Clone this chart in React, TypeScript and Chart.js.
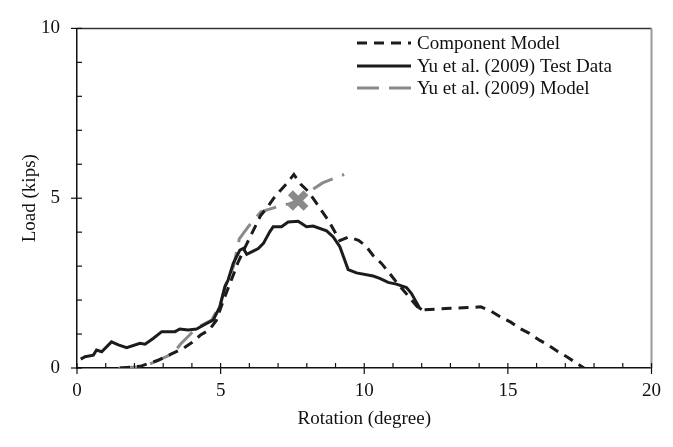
import React, { useEffect, useRef } from "react";
import { Chart, registerables } from "chart.js";

Chart.register(...registerables);

// Component Model (dashed black)
const componentX = [1.5, 2.2, 2.8, 3.7, 4.0, 4.3, 4.6, 4.85, 5.1, 5.4, 5.6, 5.85, 6.05, 6.4, 6.6, 6.85, 7.05, 7.3, 7.55, 7.8, 8.05, 8.3, 8.5, 8.75, 8.95, 9.15, 9.45, 9.8, 10.05, 10.3, 10.6, 10.85, 11.1, 11.4, 11.6, 11.9, 12.0, 12.5, 13.0, 13.6, 14.05, 14.4, 14.75, 15.1, 15.4, 15.75, 16.1, 16.4, 16.75, 17.05, 17.4, 17.65];
const componentY = [0.0, 0.05, 0.22, 0.58, 0.75, 0.97, 1.12, 1.4, 2.0, 2.65, 3.1, 3.55, 3.9, 4.5, 4.7, 5.0, 5.2, 5.43, 5.7, 5.4, 5.2, 4.9, 4.65, 4.35, 4.05, 3.75, 3.86, 3.76, 3.6, 3.32, 3.08, 2.82, 2.55, 2.25, 2.05, 1.75, 1.71, 1.73, 1.76, 1.78, 1.8, 1.68, 1.5, 1.35, 1.17, 1.02, 0.82, 0.68, 0.48, 0.33, 0.14, 0.0];

// Yu et al. (2009) Test Data (solid black)
const testX = [0.13, 0.28, 0.57, 0.68, 0.86, 1.2, 1.44, 1.73, 2.19, 2.37, 2.65, 2.95, 3.41, 3.58, 3.87, 4.16, 4.51, 4.74, 4.97, 5.15, 5.26, 5.44, 5.67, 5.79, 5.91, 6.08, 6.31, 6.49, 6.71, 6.83, 7.12, 7.35, 7.7, 7.99, 8.22, 8.69, 8.92, 9.15, 9.44, 9.73, 10.31, 10.54, 10.83, 11.12, 11.47, 11.64, 11.93, 12.0];
const testY = [0.26, 0.33, 0.38, 0.53, 0.48, 0.77, 0.68, 0.6, 0.73, 0.7, 0.87, 1.07, 1.07, 1.15, 1.12, 1.15, 1.31, 1.41, 1.8, 2.39, 2.59, 3.08, 3.47, 3.52, 3.35, 3.42, 3.52, 3.67, 4.01, 4.16, 4.16, 4.3, 4.32, 4.16, 4.18, 4.04, 3.86, 3.57, 2.9, 2.8, 2.71, 2.64, 2.52, 2.47, 2.37, 2.2, 1.76, 1.72];

// Yu et al. (2009) Model (dashed gray)
const modelX = [1.45, 2.3, 2.65, 3.35, 3.6, 4.15, 4.7, 5.0, 5.15, 5.45, 5.65, 5.95, 6.4, 6.95, 7.4, 7.7, 8.05, 8.55, 9.0, 9.3];
const modelY = [0.0, 0.04, 0.16, 0.43, 0.7, 1.17, 1.42, 1.9, 2.4, 3.0, 3.8, 4.15, 4.6, 4.74, 4.84, 4.93, 5.17, 5.45, 5.6, 5.7];

// Failure marker
const markerX = [7.7];
const markerY = [4.93];

const legendLabels = ["Component Model", "Yu et al. (2009) Test Data", "Yu et al. (2009) Model"];
const xTickStep = 5;
const yTickStep = 5;

const FONT = "'Liberation Serif', 'Times New Roman', serif";
const BLACK = "#1c1c1c";
const GRAY = "#8a8a8a";

const zip = (xs: number[], ys: number[]) => xs.map((x, i) => ({ x, y: ys[i] }));

const decorPlugin = {
  id: "decor",
  afterDraw(chart: any) {
    const ctx = chart.ctx;
    const xs = chart.scales.x;
    const ys = chart.scales.y;
    const { left, right, top, bottom } = chart.chartArea;
    ctx.save();
    // top border and right border
    ctx.strokeStyle = "#333";
    ctx.lineWidth = 1.5;
    ctx.beginPath();
    ctx.moveTo(left, top);
    ctx.lineTo(right, top);
    ctx.stroke();
    ctx.strokeStyle = "#999";
    ctx.lineWidth = 2;
    ctx.beginPath();
    ctx.moveTo(right, top);
    ctx.lineTo(right, bottom);
    ctx.stroke();
    // ticks
    ctx.strokeStyle = "#111";
    ctx.lineWidth = 1.2;
    for (let v = 0; v <= 20; v++) {
      const px = xs.getPixelForValue(v);
      const major = v % 5 === 0;
      ctx.beginPath();
      ctx.moveTo(px, bottom - 5);
      ctx.lineTo(px, major ? bottom + 6 : bottom);
      ctx.stroke();
    }
    for (let v = 0; v <= 10; v++) {
      const py = ys.getPixelForValue(v);
      const major = v % 5 === 0;
      ctx.beginPath();
      ctx.moveTo(major ? left - 6 : left, py);
      ctx.lineTo(left + 5, py);
      ctx.stroke();
    }
    // legend
    const rows = [43, 66, 88];
    const styles = [
      { color: BLACK, dash: [10, 7], width: 3 },
      { color: BLACK, dash: [], width: 3 },
      { color: GRAY, dash: [22, 10], width: 3 },
    ];
    ctx.font = `19px ${FONT}`;
    ctx.textBaseline = "middle";
    ctx.textAlign = "left";
    legendLabels.forEach((label, i) => {
      const s = styles[i];
      ctx.strokeStyle = s.color;
      ctx.lineWidth = s.width;
      ctx.setLineDash(s.dash);
      ctx.beginPath();
      ctx.moveTo(357, rows[i]);
      ctx.lineTo(411, rows[i]);
      ctx.stroke();
      ctx.setLineDash([]);
      ctx.fillStyle = "#111";
      ctx.fillText(label, 417, rows[i] + 1);
    });
    ctx.restore();
  },
};

export default function App() {
  const ref = useRef<HTMLCanvasElement | null>(null);
  useEffect(() => {
    if (!ref.current) return;
    const chart = new Chart(ref.current, {
      type: "line",
      data: {
        datasets: [
          {
            label: legendLabels[0],
            data: zip(componentX, componentY),
            borderColor: BLACK,
            borderWidth: 3,
            borderDash: [10, 7],
            pointRadius: 0,
            fill: false,
            tension: 0,
          },
          {
            label: legendLabels[1],
            data: zip(testX, testY),
            borderColor: BLACK,
            borderWidth: 3,
            pointRadius: 0,
            fill: false,
            tension: 0,
          },
          {
            label: legendLabels[2],
            data: zip(modelX, modelY),
            borderColor: GRAY,
            borderWidth: 3,
            borderDash: [22, 10],
            pointRadius: 0,
            fill: false,
            tension: 0,
          },
          {
            label: "marker",
            data: zip(markerX, markerY),
            showLine: false,
            pointStyle: "crossRot",
            pointRadius: 11,
            pointBorderWidth: 7,
            pointBorderColor: GRAY,
            borderColor: GRAY,
          },
        ],
      },
      options: {
        animation: false,
        responsive: false,
        maintainAspectRatio: false,
        layout: { padding: { left: 0, top: 27, right: 21, bottom: 0 } },
        plugins: {
          legend: { display: false },
          tooltip: { enabled: false },
        },
        scales: {
          x: {
            type: "linear",
            min: 0,
            max: 20,
            afterFit: (s: any) => {
              s.height = 79;
            },
            grid: { display: false, drawTicks: false },
            border: { display: true, color: "#111", width: 1.5 },
            ticks: {
              stepSize: xTickStep,
              padding: 12,
              color: "#111",
              font: { family: FONT, size: 19 },
              maxRotation: 0,
            },
            title: {
              display: true,
              text: "Rotation (degree)",
              color: "#111",
              font: { family: FONT, size: 19 },
              padding: { top: 0, bottom: 17 },
            },
          },
          y: {
            type: "linear",
            min: 0,
            max: 10,
            afterFit: (s: any) => {
              s.width = 77;
            },
            grid: { display: false, drawTicks: false },
            border: { display: true, color: "#111", width: 1.5 },
            ticks: {
              stepSize: yTickStep,
              padding: 17,
              color: "#111",
              font: { family: FONT, size: 19 },
            },
            title: {
              display: true,
              text: "Load (kips)",
              color: "#111",
              font: { family: FONT, size: 19 },
              padding: { top: 19, bottom: 0 },
            },
          },
        },
      },
      plugins: [decorPlugin],
    });
    return () => chart.destroy();
  }, []);
  return (
    <div style={{ position: "fixed", left: 0, top: 0, width: 673, height: 447, background: "#fff" }}>
      <canvas ref={ref} width={673} height={447} style={{ width: 673, height: 447 }} />
    </div>
  );
}
